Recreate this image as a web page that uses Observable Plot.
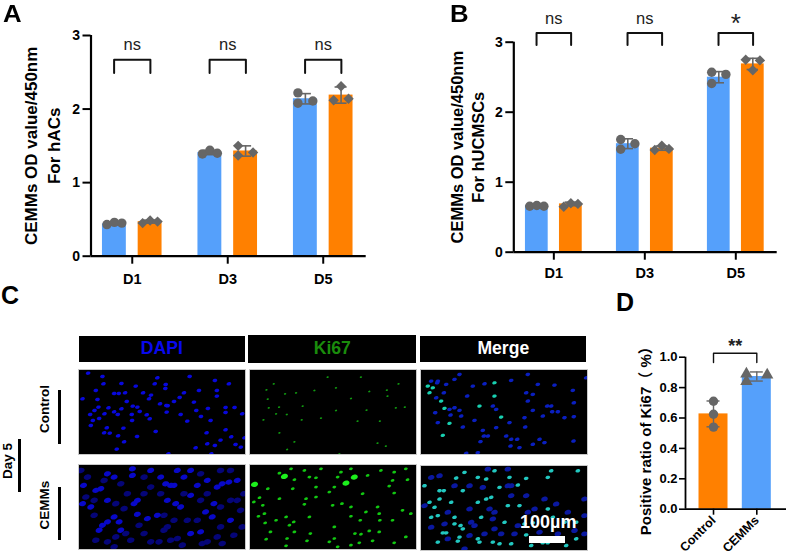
<!DOCTYPE html>
<html><head><meta charset="utf-8">
<script src="https://cdn.jsdelivr.net/npm/d3@7"></script>
<script src="https://cdn.jsdelivr.net/npm/@observablehq/plot@0.6"></script>
<style>
html,body{margin:0;background:#fff}
#stage{position:relative;width:787px;height:554px;overflow:hidden;font-family:"Liberation Sans",Arial,sans-serif;color:#000}
.abs{position:absolute;white-space:nowrap}
.letter{font-weight:700;font-size:25px;line-height:28px}
.small{font-size:23px;line-height:26px;transform:scaleX(1.12);transform-origin:left center}
.head{background:#000;font-weight:700;font-size:17.6px;display:flex;align-items:center;justify-content:center}
.rot{font-weight:700;font-size:13.5px;transform:translate(-50%,-50%) rotate(-90deg)}
.bar{background:#000}
</style></head><body><div id="stage"></div>
<script>
// ---------- data ----------
const days = ["D1","D3","D5"];
const BLUE = "#55a0fb", ORANGE = "#ff8000", GREY = "#666666";

const aBlueMean   = [0.44, 1.41, 2.14];
const aOrangeMean = [0.47, 1.43, 2.19];
const aBlueSd     = [0.015, 0.03, 0.07];
const aOrangeSd   = [0.02, 0.07, 0.11];
const aBluePts    = [[0.43,0.46,0.45],[1.39,1.44,1.40],[2.22,2.08,2.11]];
const aOrangePts  = [[0.45,0.485,0.47],[1.50,1.37,1.41],[2.31,2.12,2.14]];
const aBrackets   = ["ns","ns","ns"];

const bBlueMean   = [0.665, 1.55, 2.50];
const bOrangeMean = [0.69, 1.486, 2.69];
const bBlueSd     = [0.01, 0.07, 0.08];
const bOrangeSd   = [0.025, 0.03, 0.08];
const bBluePts    = [[0.657,0.667,0.657],[1.61,1.47,1.55],[2.57,2.41,2.54]];
const bOrangePts  = [[0.648,0.70,0.69],[1.46,1.52,1.476],[2.75,2.74,2.60]];
const bBrackets   = ["ns","ns","*"];

// horizontal swarm slot of each replicate per day (-1 left, 0 centre, 1 right)
const aBlueSlots   = [[-1,0,1],[-1,0,1],[-1,-1,1]];
const aOrangeSlots = [[-1,0,1],[-1,-1,1],[0,-1,1]];
const bBlueSlots   = [[-1,0,1],[-1,-1,1],[-1,-1,1]];
const bOrangeSlots = [[-1,0,1],[-1,0,1],[-1,1,0]];

const dGroups = ["Control","CEMMs"];
const dMeans  = [0.627, 0.873];
const dSd     = [0.085, 0.03];
const dPts    = [[0.71,0.625,0.54],[0.89,0.84,0.884]];
const dSlots  = [[0,0,0],[-1,-1,1]];

// cell positions in the micrographs
const dapiControl = [[348,284],[370,306],[352,324],[409,322],[310,333],[327,332],[318,348],[368,347],[465,337],[270,355],[276,370],[295,376],[268,388],[293,410],[281,400],[311,390],[323,408],[340,396],[351,388],[394,370],[393,388],[362,405],[417,397],[396,413],[410,410],[438,387],[447,375],[498,395],[540,388],[560,368],[587,400],[601,382],[630,370],[497,415],[520,427],[478,420],[501,414],[585,288],[620,300],[643,295],[660,311],[692,321],[705,298],[721,290],[618,333],[675,342],[732,318],[622,406],[675,394],[675,409],[702,409],[725,390],[245,435],[290,433],[378,427],[285,460],[340,451],[354,451],[373,453],[427,453],[445,435],[451,446],[537,439],[550,453],[580,425],[649,443],[649,460],[595,460],[494,466],[462,480],[495,478],[308,480],[362,481],[405,473],[685,480],[643,490],[305,502],[470,498],[567,502],[262,512],[503,270],[632,270]];
const dapiCemmsBright = [[295,610],[305,625],[320,635],[340,650],[360,610],[410,658],[440,645],[355,635],[270,680],[245,690],[320,700],[400,690],[285,730],[300,735],[248,745],[340,770],[320,780],[450,790],[480,770],[510,745],[495,750],[520,745],[500,700],[525,690],[570,715],[600,605],[570,600],[635,650],[615,665],[690,640],[650,740],[665,750],[550,770],[570,790],[710,760],[685,755],[620,760],[410,700],[470,655],[540,680],[530,790],[395,775],[395,795],[590,745],[640,690]];
const dapiCemmsDim = [[285,580],[340,560],[320,575],[345,590],[375,600],[450,575],[475,575],[510,580],[545,565],[530,585],[605,570],[620,575],[650,590],[665,570],[700,595],[725,620],[415,625],[500,620],[490,610],[660,620],[590,640],[560,640],[490,655],[370,675],[280,655],[255,710],[380,720],[345,690],[430,720],[450,740],[480,720],[550,720],[600,700],[620,720],[660,680],[690,700],[710,700],[430,770],[360,750],[260,770],[600,780],[690,790],[660,790],[730,720],[720,670],[520,640],[430,600],[390,580],[310,760],[280,700],[240,790]];
const kiControl = [[858,283],[835,333],[787,372],[825,390],[857,388],[902,372],[960,377],[1070,368],[1137,368],[803,408],[834,410],[905,413],[1097,401],[1185,408],[1212,410],[800,434],[852,450],[885,453],[1050,436],[1160,443],[796,462],[1158,461],[818,480],[1005,468],[940,460],[1080,500],[1105,457],[1193,480],[1155,293],[1130,302],[880,306],[1015,270],[980,500],[1005,400]];
const kiCemms = [[855,563],[795,583],[858,585],[918,578],[985,575],[1010,560],[1050,565],[1075,572],[1115,578],[1180,572],[1215,590],[808,605],[880,605],[928,600],[1062,600],[1080,598],[1105,608],[1135,605],[1000,585],[865,625],[878,635],[792,632],[825,640],[772,652],[790,660],[855,650],[1000,620],[1078,640],[1050,652],[1137,640],[1175,640],[1230,660],[925,650],[1135,660],[1095,665],[758,695],[785,685],[910,688],[915,705],[995,685],[1023,690],[1050,680],[1130,680],[1205,670],[775,708],[800,735],[835,705],[945,710],[985,725],[1085,720],[1180,722],[875,735],[945,740],[1000,740],[1165,743],[1215,795],[1220,762],[1100,775],[880,762],[925,770],[945,768],[1010,770],[835,782],[1180,785],[1140,790],[1020,785],[960,795],[1050,795],[910,790],[870,795],[1175,760]];
const kiCemmsBig = [[760,748],[1035,752],[850,772],[1060,770]];
const mergeControlBlue = [[165,243],[200,245],[298,265],[325,260],[365,270],[208,278],[218,295],[230,295],[285,295],[300,285],[318,285],[385,285],[400,275],[487,280],[342,322],[155,322],[190,342],[215,312],[255,320],[80,335],[118,358],[150,355],[145,372],[115,375],[130,380],[72,365],[295,335],[340,350],[255,375],[245,385],[365,372],[395,355],[423,368],[440,368],[408,385],[420,385],[168,415],[345,425],[365,420],[75,410],[98,425],[78,455],[60,460],[80,460],[105,450],[130,465],[145,480],[185,445],[220,452],[300,462],[380,450],[430,448],[350,480],[485,432],[525,470],[488,353],[460,350],[488,395],[350,400]];
const mergeControlTeal = [[95,297],[115,333],[205,385],[100,378],[270,352],[250,415],[90,400],[55,425],[50,445],[65,440],[250,455]];
const mergeCemmsTeal = [[80,550],[95,578],[105,578],[140,553],[145,565],[205,550],[200,560],[245,550],[265,545],[300,545],[360,540],[345,572],[395,548],[410,548],[465,540],[495,560],[130,605],[148,600],[155,590],[210,625],[60,625],[80,630],[130,625],[280,610],[340,605],[365,608],[410,650],[425,625],[460,610],[495,610],[70,655],[55,670],[85,680],[120,670],[155,705],[200,670],[225,680],[240,685],[290,660],[325,660],[40,720],[85,705],[98,705],[135,743],[320,722],[345,742],[500,765],[200,745],[225,740],[265,715],[160,760],[250,765],[295,745],[420,765],[410,745]];
const mergeCemmsBlue = [[160,530],[110,560],[175,570],[220,575],[250,590],[270,575],[60,595],[100,605],[180,610],[310,575],[320,600],[385,580],[440,575],[490,585],[520,575],[245,620],[175,650],[110,640],[40,660],[130,720],[175,720],[215,715],[300,690],[290,720],[345,690],[400,680],[435,665],[470,640],[520,630],[520,680],[85,750],[60,745],[230,770],[290,770],[300,720],[190,600],[235,650],[370,650],[350,640],[250,640]];

// ---------- helpers ----------
const stage = document.getElementById("stage");
const FONT = '"Liberation Sans",Arial,"Noto Sans CJK SC",sans-serif';
function place(svg){ stage.appendChild(svg); return svg; }
function html(cls, css, text){
  const e = document.createElement("div");
  e.className = "abs " + cls;
  e.style.cssText = css;
  if (text) e.textContent = text;
  stage.appendChild(e);
}
// nucleus outline used by the micrograph dots
const nucleus = {draw(ctx,size){
  const s=Math.sqrt(size/Math.PI), a=s*1.2, b=s*0.85, k=0.5523;
  ctx.moveTo(a,0);
  ctx.bezierCurveTo(a,k*b,k*a,b,0,b);
  ctx.bezierCurveTo(-k*a,b,-a,k*b,-a,0);
  ctx.bezierCurveTo(-a,-k*b,-k*a,-b,0,-b);
  ctx.bezierCurveTo(k*a,-b,a,-k*b,a,0);
  ctx.closePath();
}};

function barPanel(cfg){
  const off = .187, half = .125, slot = .078, cap = .063, bh = .19;
  const rows = [];
  days.forEach((d,i)=>{
    rows.push({i, side:-1, fill:BLUE,   mean:cfg.blueMean[i],   sd:cfg.blueSd[i],   pts:cfg.bluePts[i],   slots:cfg.blueSlots[i],   symbol:"circle"});
    rows.push({i, side: 1, fill:ORANGE, mean:cfg.orangeMean[i], sd:cfg.orangeSd[i], pts:cfg.orangePts[i], slots:cfg.orangeSlots[i], symbol:"diamond2"});
  });
  const cx = r => r.i + r.side*off;
  const pts = rows.flatMap(r => r.pts.map((v,k)=>({x:cx(r)+r.slots[k]*slot, v, symbol:r.symbol})));
  const brackets = days.flatMap((d,i)=>[[i-bh,cfg.brLow],[i-bh,cfg.brTop],[i+bh,cfg.brTop],[i+bh,cfg.brLow]].map(p=>({i,x:p[0],y:p[1]})));
  return place(Plot.plot({
    width:cfg.width, height:cfg.height,
    marginLeft:cfg.axisX, marginRight:cfg.width-cfg.axisEnd, marginTop:cfg.y3, marginBottom:cfg.height-cfg.y0,
    x:{domain:cfg.xDomain}, y:{domain:[0,3]},
    style:{position:"absolute",left:cfg.left+"px",top:"0px",background:"transparent",fontFamily:FONT,overflow:"visible"},
    marks:[
      Plot.rectY(rows,{x1:r=>cx(r)-half,x2:r=>cx(r)+half,y1:0,y2:"mean",fill:"fill"}),
      Plot.ruleX(rows,{x:cx,y1:r=>r.mean-r.sd,y2:r=>r.mean+r.sd,stroke:GREY,strokeWidth:1.6}),
      Plot.ruleY(rows,{y:r=>r.mean+r.sd,x1:r=>cx(r)-cap,x2:r=>cx(r)+cap,stroke:GREY,strokeWidth:1.6}),
      Plot.ruleY(rows,{y:r=>r.mean-r.sd,x1:r=>cx(r)-cap,x2:r=>cx(r)+cap,stroke:GREY,strokeWidth:1.6}),
      Plot.dot(pts,{x:"x",y:"v",symbol:"symbol",fill:GREY,r:4.7}),
      Plot.line(brackets,{x:"x",y:"y",z:"i",stroke:"#111",strokeWidth:2}),
      Plot.text(cfg.brackets,{x:(d,i)=>i,y:(d)=>d==="*"?cfg.starY:cfg.nsY,text:d=>d,fontSize:d=>d==="*"?26:16.5,fontWeight:d=>d==="*"?"bold":"normal",fill:"#222"}),
      Plot.ruleX([cfg.xDomain[0]],{y1:0,y2:3,stroke:"#000",strokeWidth:2.2}),
      Plot.ruleY([0],{stroke:"#000",strokeWidth:2.2}),
      Plot.axisY({ticks:[0,1,2,3],tickFormat:d3.format("d"),tickSize:8,tickPadding:3,fontSize:14,fontWeight:"bold",strokeWidth:2,stroke:"#000",fill:"#000",label:null}),
      Plot.axisX({ticks:[0,1,2],tickFormat:i=>days[i],tickSize:8,tickPadding:cfg.xPad,fontSize:14.5,fontWeight:"bold",strokeWidth:2,stroke:"#000",fill:"#000",label:null}),
      Plot.text([cfg.label],{frameAnchor:"left",textAnchor:"middle",lineAnchor:"middle",rotate:-90,dx:cfg.labelDx,fontSize:cfg.labelSize,lineHeight:cfg.labelLH,fontWeight:"bold",fill:"#000",text:d=>d})
    ]
  }));
}

barPanel({left:0,width:400,height:290,axisX:90.5,axisEnd:365.7,y3:35,y0:255.7,xDomain:[-.432,2.45],xPad:10,
  blueMean:aBlueMean,orangeMean:aOrangeMean,blueSd:aBlueSd,orangeSd:aOrangeSd,bluePts:aBluePts,orangePts:aOrangePts,
  blueSlots:aBlueSlots,orangeSlots:aOrangeSlots,brackets:aBrackets,brTop:2.67,brLow:2.49,nsY:2.88,starY:2.88,
  label:"CEMMs OD value/450nm\nFor hACs",labelDx:-50,labelSize:17,labelLH:1.33});
barPanel({left:400,width:387,height:290,axisX:113.3,axisEnd:376.7,y3:41.7,y0:251.7,xDomain:[-.44,2.455],xPad:8,
  blueMean:bBlueMean,orangeMean:bOrangeMean,blueSd:bBlueSd,orangeSd:bOrangeSd,bluePts:bBluePts,orangePts:bOrangePts,
  blueSlots:bBlueSlots,orangeSlots:bOrangeSlots,brackets:bBrackets,brTop:3.13,brLow:2.96,nsY:3.33,starY:3.27,
  label:"CEMMs OD value/450nm\nFor hUCMSCs",labelDx:-47,labelSize:16.5,labelLH:1.26});

// Panel D
(function(){
  const half=.335, slot=.24, cap=.15;
  const rows = dGroups.map((g,i)=>({i,g,mean:dMeans[i],sd:dSd[i],fill:i?BLUE:ORANGE}));
  const pts = rows.flatMap(r=>dPts[r.i].map((v,k)=>({x:r.i+dSlots[r.i][k]*slot,v,symbol:r.i?"triangle":"circle"})));
  place(Plot.plot({
    width:167,height:224,marginLeft:65,marginRight:1,marginTop:26.7,marginBottom:45.3,
    x:{domain:[-.647,1.686]},y:{domain:[0,1]},
    style:{position:"absolute",left:"620px",top:"330px",background:"transparent",fontFamily:FONT,overflow:"visible"},
    marks:[
      Plot.rectY(rows,{x1:r=>r.i-half,x2:r=>r.i+half,y1:0,y2:"mean",fill:"fill"}),
      Plot.ruleX(rows,{x:"i",y1:r=>r.mean-r.sd,y2:r=>r.mean+r.sd,stroke:GREY,strokeWidth:1.4}),
      Plot.ruleY(rows,{y:r=>r.mean+r.sd,x1:r=>r.i-cap,x2:r=>r.i+cap,stroke:GREY,strokeWidth:1.4}),
      Plot.ruleY(rows,{y:r=>r.mean-r.sd,x1:r=>r.i-cap,x2:r=>r.i+cap,stroke:GREY,strokeWidth:1.4}),
      Plot.dot(pts.filter(p=>p.symbol==="circle"),{x:"x",y:"v",fill:GREY,r:4.7}),
      Plot.dot(pts.filter(p=>p.symbol==="triangle"),{x:"x",y:"v",symbol:"triangle",fill:GREY,r:4.6}),
      Plot.line([[0,.965],[0,1.026],[1,1.026],[1,.965]],{stroke:"#111",strokeWidth:1.4}),
      Plot.text(["**"],{x:.5,y:1.075,text:d=>d,fontSize:18,fontWeight:"bold",fill:"#222"}),
      Plot.ruleX([-.647],{y1:0,y2:1,stroke:"#000",strokeWidth:1.8}),
      Plot.ruleY([0],{stroke:"#000",strokeWidth:1.8}),
      Plot.axisY({ticks:[0,.2,.4,.6,.8,1],tickFormat:d3.format(".1f"),tickSize:6,tickPadding:2,fontSize:13,fontWeight:"bold",strokeWidth:1.6,stroke:"#000",fill:"#000",label:null}),
      Plot.axisX({ticks:[0,1],tickFormat:i=>dGroups[i],tickRotate:-45,tickSize:6,tickPadding:3,fontSize:12.5,fontWeight:"bold",strokeWidth:1.6,stroke:"#000",fill:"#000",label:null}),
      Plot.text(["Positive ratio of Ki67（ %）"],{frameAnchor:"left",textAnchor:"middle",lineAnchor:"middle",rotate:-90,dx:-39,dy:4,fontSize:15,fontWeight:"bold",fill:"#000",text:d=>d})
    ]
  }));
})();

// Panel C: micrographs
function micro(box, layers, dom, blur){
  place(Plot.plot({
    width:box[2],height:box[3],margin:0,
    x:{domain:dom[0],axis:null},y:{domain:dom[1],axis:null},
    style:{position:"absolute",left:box[0]+"px",top:box[1]+"px",background:"#000",outline:"1px solid #c9c9c9",filter:`blur(${blur}px)`},
    marks:layers.map(l=>Plot.dot(l.data,{x:d=>d[0],y:d=>d[1],r:l.r,fill:l.fill,symbol:nucleus,rotate:-15,clip:true}))
  }));
}
micro([79,369.5,166,84],[{data:dapiControl,r:2,fill:"#0808dc"}],[[236,735],[268,520]],0.4);
micro([249.5,369.5,166,84],[{data:kiControl,r:1,fill:"#109a10"}],[[748,1247],[268,520]],0.4);
micro([420.5,369.5,166,84.5],[{data:mergeControlBlue,r:2,fill:"#0a1fc0"},{data:mergeControlTeal,r:1.9,fill:"#18d0b0"}],[[31,529],[238,492]],0.4);
micro([79,464.5,166,84],[{data:dapiCemmsDim,r:3.2,fill:"#050578"},{data:dapiCemmsBright,r:3,fill:"#0808c8"}],[[236,735],[552,805]],0.7);
micro([249.5,464.5,166,84],[{data:kiCemms,r:1.6,fill:"#12c812"},{data:kiCemmsBig,r:3,fill:"#1cf01c"}],[[748,1247],[552,805]],0.5);
micro([420.5,465.5,166,84],[{data:mergeCemmsBlue,r:2.8,fill:"#0a18a0"},{data:mergeCemmsTeal,r:2,fill:"#22c8c0"}],[[31,529],[525,778]],0.5);

html("head","left:78.7px;top:335.7px;width:166.3px;height:26px;color:#0808ee","DAPI");
html("head","left:248.3px;top:335px;width:168px;height:27.7px;color:#1a8c0c","Ki67");
html("head","left:420.3px;top:335.7px;width:166px;height:26px;color:#fff","Merge");

html("rot","left:44.3px;top:409px","Control");
html("rot","left:44.3px;top:504.5px","CEMMs");
html("rot","left:7px;top:461px","Day 5");
html("bar","left:58px;top:390px;width:2.6px;height:53.5px");
html("bar","left:58px;top:486.7px;width:2.6px;height:53.3px");
html("bar","left:18px;top:439px;width:2.6px;height:53px");

html("","left:529.3px;top:536px;width:35.7px;height:6.7px;background:#fff");
html("","left:520px;top:512px;font-weight:700;font-size:18px;line-height:21px;color:#fff","100µm");

html("letter small","left:3px;top:1px","A");
html("letter small","left:450px;top:1px","B");
html("letter","left:1px;top:281px","C");
html("letter","left:616px;top:288px","D");
</script></body></html>
